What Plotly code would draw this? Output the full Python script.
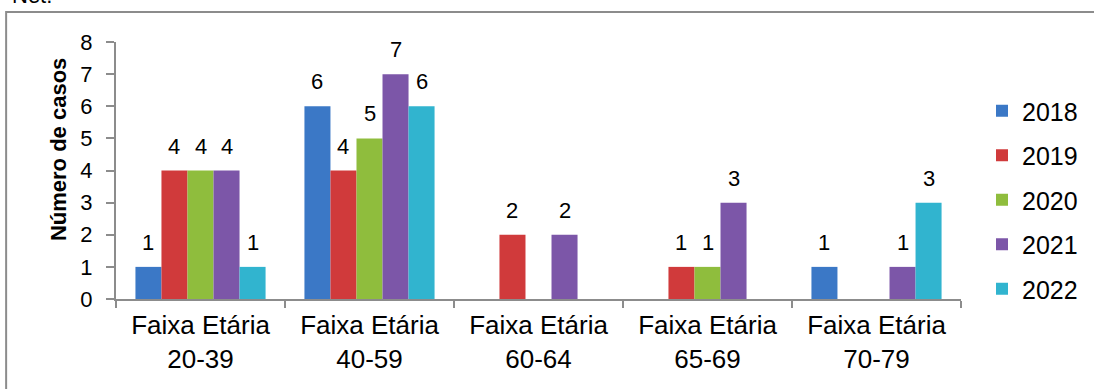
import plotly.graph_objects as go

categories = ["Faixa Etária<br>20-39", "Faixa Etária<br>40-59", "Faixa Etária<br>60-64",
              "Faixa Etária<br>65-69", "Faixa Etária<br>70-79"]
years = ["2018", "2019", "2020", "2021", "2022"]
v2018 = [1, 6, 0, 0, 1]
v2019 = [4, 4, 2, 1, 0]
v2020 = [4, 5, 0, 1, 0]
v2021 = [4, 7, 2, 3, 1]
v2022 = [1, 6, 0, 0, 3]
series = [v2018, v2019, v2020, v2021, v2022]
colors = ["#3b78c6", "#d03a3b", "#8fbd3d", "#7c56a8", "#31b4cf"]

W, H = 1094, 389
ML, MR, MT, MB = 116, 132, 42, 90
BARGAP = 0.23
FONT = "Arial, Liberation Sans, sans-serif"

fig = go.Figure()
for name, vals, c in zip(years, series, colors):
    fig.add_trace(go.Bar(
        x=categories, y=vals, name=name, legendgroup=name,
        marker=dict(color=c, line=dict(width=0)),
    ))

plot_w = W - ML - MR
plot_h = H - MT - MB
cat_w = plot_w / len(categories)
bar_w = cat_w * (1 - BARGAP) / len(series)
annotations = []
for i, vals in enumerate(series):
    for cat, v in zip(categories, vals):
        if v > 0:
            annotations.append(dict(
                x=cat, y=v, xref="x", yref="y", text=str(v), showarrow=False,
                xshift=(i - (len(series) - 1) / 2) * bar_w, yshift=10,
                yanchor="bottom", font=dict(size=22, color="#000", family=FONT)))

annotations.append(dict(
    x=(10 - ML) / plot_w, y=(H - MB - 10) / plot_h, xref="paper", yref="paper",
    text="Net.", showarrow=False, xanchor="left", yanchor="bottom",
    font=dict(size=22, color="#000", family=FONT)))

annotations.append(dict(
    x=(58 - ML) / plot_w, y=(H - MB - 150) / plot_h, xref="paper", yref="paper",
    text="<b>Número de casos</b>", showarrow=False, textangle=-90,
    xanchor="center", yanchor="middle",
    font=dict(size=22, color="#000", family=FONT)))

fig.update_layout(
    width=W, height=H,
    margin=dict(l=ML, r=MR, t=MT, b=MB, pad=0),
    paper_bgcolor="white", plot_bgcolor="white",
    barmode="group", bargap=BARGAP, bargroupgap=0,
    font=dict(family=FONT, size=22, color="#000"),
    showlegend=True,
    legend=dict(x=(982 - ML) / plot_w, xanchor="left", y=(H - MB - 200) / plot_h,
                yanchor="middle", traceorder="grouped", tracegroupgap=9,
                font=dict(size=25, family=FONT), itemwidth=30, bgcolor="rgba(0,0,0,0)"),
    annotations=annotations,
    shapes=[dict(type="rect", xref="paper", yref="paper",
                 x0=(6 - ML) / plot_w, x1=1.3,
                 y0=-0.6, y1=(H - MB - 12) / plot_h,
                 line=dict(color="#8c8c8c", width=2), fillcolor="rgba(0,0,0,0)", layer="below")],
)
fig.update_xaxes(showline=True, linecolor="#8c8c8c", linewidth=2, ticks="outside",
                 tickson="boundaries", ticklen=7, tickcolor="#8c8c8c", tickwidth=2,
                 showgrid=False, tickfont=dict(size=26, family=FONT), ticklabelstandoff=2)
fig.update_yaxes(range=[0, 8], dtick=1, showline=True, linecolor="#8c8c8c", linewidth=2,
                 ticks="outside", ticklen=8, tickcolor="#8c8c8c", tickwidth=2,
                 showgrid=False, zeroline=False, tickfont=dict(size=22, family=FONT),
                 ticklabelstandoff=9)

fig.write_html("out.html")
